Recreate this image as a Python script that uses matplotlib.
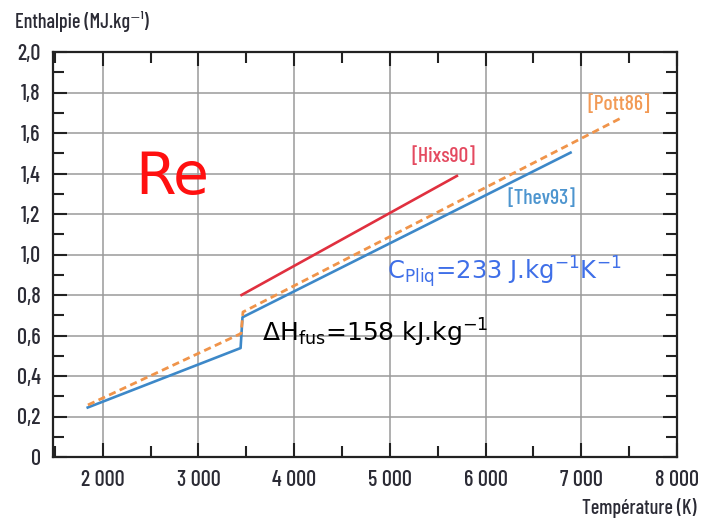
import matplotlib
matplotlib.use("Agg")
import matplotlib.pyplot as plt
from matplotlib.ticker import MultipleLocator, FixedLocator

# ---- data ----
temp_thev = [1830, 3440, 3460, 6900]
h_thev = [0.242, 0.538, 0.690, 1.506]
temp_pott = [1845, 3445, 3465, 7440]
h_pott = [0.257, 0.610, 0.716, 1.680]
temp_hixs = [3450, 5700]
h_hixs = [0.800, 1.388]

x_ticks = [2000, 3000, 4000, 5000, 6000, 7000, 8000]
x_labels = ["2 000", "3 000", "4 000", "5 000", "6 000", "7 000", "8 000"]
y_ticks = [0, 0.2, 0.4, 0.6, 0.8, 1.0, 1.2, 1.4, 1.6, 1.8, 2.0]
y_labels = ["0", "0,2", "0,4", "0,6", "0,8", "1,0", "1,2", "1,4", "1,6", "1,8", "2,0"]

COND = ["Barlow Condensed", "DejaVu Sans"]
TXT = "#2b2b35"
BLUE = "#3d88c8"
ORANGE = "#f0944a"
RED = "#e0303f"

fig = plt.figure(figsize=(7.02, 5.20), dpi=100)
ax = fig.add_axes([53/702, 1-457/520, (677-53)/702, (457-52)/520])

ax.set_xlim(1480, 8000)
ax.set_ylim(0, 2.0)

ax.plot(temp_thev, h_thev, color=BLUE, lw=1.9, solid_capstyle="butt", zorder=3)
ax.plot(temp_pott, h_pott, color=ORANGE, lw=2.0, dashes=(2.6, 1.6), zorder=4)
ax.plot(temp_hixs, h_hixs, color=RED, lw=1.9, zorder=3)

ax.xaxis.set_major_locator(FixedLocator(x_ticks))
ax.set_xticklabels(x_labels)
ax.xaxis.set_minor_locator(MultipleLocator(500))
ax.yaxis.set_major_locator(FixedLocator(y_ticks))
ax.set_yticklabels(y_labels)
ax.yaxis.set_minor_locator(MultipleLocator(0.1))

ax.grid(True, which="major", color="#9a9a9a", lw=1.1, zorder=1)
ax.tick_params(which="both", direction="in", top=True, right=True, color="#222222",
               width=1.5, labelsize=16, labelcolor=TXT)
ax.tick_params(which="major", length=10, pad=9)
ax.tick_params(which="minor", length=8)
for lab in ax.get_xticklabels() + ax.get_yticklabels():
    lab.set_family(COND)
    lab.set_fontweight(500)
for sp in ax.spines.values():
    sp.set_color("#222222")
    sp.set_linewidth(1.6)

fig.text(15/702, 1-22/520, "Enthalpie (MJ.kg\u207b\u00b9)", family=COND, fontsize=14.5,
         fontweight=500, color=TXT, ha="left", va="center")
fig.text(697/702, 1-508/520, "Température (K)", family=COND, fontsize=14.5,
         fontweight=500, color=TXT, ha="right", va="center")

ax.text(5564, 1.486, "[Hixs90]", family=COND, fontsize=15.5, fontweight=500, color="#e44a60", ha="center", va="center")
ax.text(6580, 1.279, "[Thev93]", family=COND, fontsize=15.5, fontweight=500, color="#4d95cf", ha="center", va="center")
ax.text(7386, 1.743, "[Pott86]", family=COND, fontsize=15.5, fontweight=500, color="#f29a55", ha="center", va="center")

ax.text(2726, 1.378, "Re", fontsize=42, color="#ff1010", ha="center", va="center")
ax.text(387/702, 1-272/520, r"C$_{\mathrm{Pliq}}$=233 J.kg$^{\mathrm{-1}}$K$^{\mathrm{-1}}$",
        transform=fig.transFigure, fontsize=17.5, color="#3f6fe8", ha="left", va="center")
ax.text(262/702, 1-333/520, r"$\Delta$H$_{\mathrm{fus}}$=158 kJ.kg$^{\mathrm{-1}}$",
        transform=fig.transFigure, fontsize=18, color="black", ha="left", va="center")

fig.savefig("out.png", dpi=100, facecolor="white")
